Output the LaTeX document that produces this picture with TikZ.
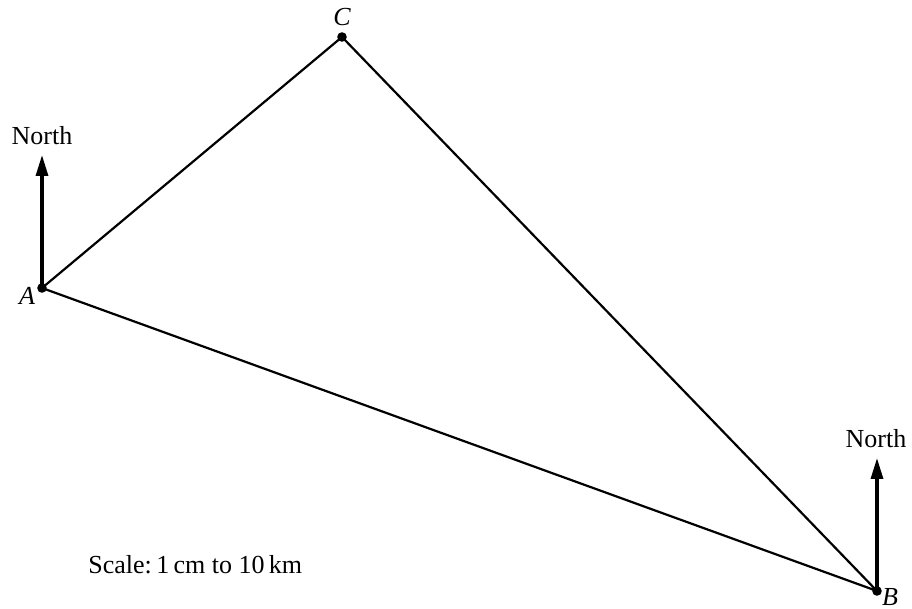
\documentclass[tikz,border=0pt]{standalone}
\usepackage{fontspec}
\setmainfont{Liberation Serif}
\usetikzlibrary{arrows.meta}
\begin{document}
\begin{tikzpicture}[x=0.5pt,y=-0.5pt,
  dot/.style={circle,fill=black,inner sep=0pt,minimum size=4.8pt},
  side/.style={line width=1.1pt},
  northarrow/.style={line width=1.6pt,-{Triangle[length=10.5pt,width=6pt]}},
  lbl/.style={font=\fontsize{13}{15}\selectfont,inner sep=0pt}]
\useasboundingbox (0,0) rectangle (912,609);
\node[dot] (A) at (42,288) {};
\node[dot] (B) at (877,591) {};
\node[dot] (C) at (342,37) {};
\draw[side] (A.center) -- (C.center) -- (B.center) -- cycle;
\node[lbl] (LA) at (27,296) {\itshape A};
\node[lbl] (LB) at (890,597) {\itshape B};
\node[lbl] (LC) at (342,17) {\itshape C};
\coordinate (NA) at (42,155);
\coordinate (NB) at (877,458);
\draw[northarrow] (A.center) -- (NA);
\draw[northarrow] (B.center) -- (NB);
\node[lbl,anchor=base] (TA) at (42,145) {North};
\node[lbl,anchor=base] (TB) at (876,448) {North};
\node[lbl,anchor=base west] (S) at (88,574) {Scale:\,1\,cm to 10\,km};
\end{tikzpicture}
\end{document}
